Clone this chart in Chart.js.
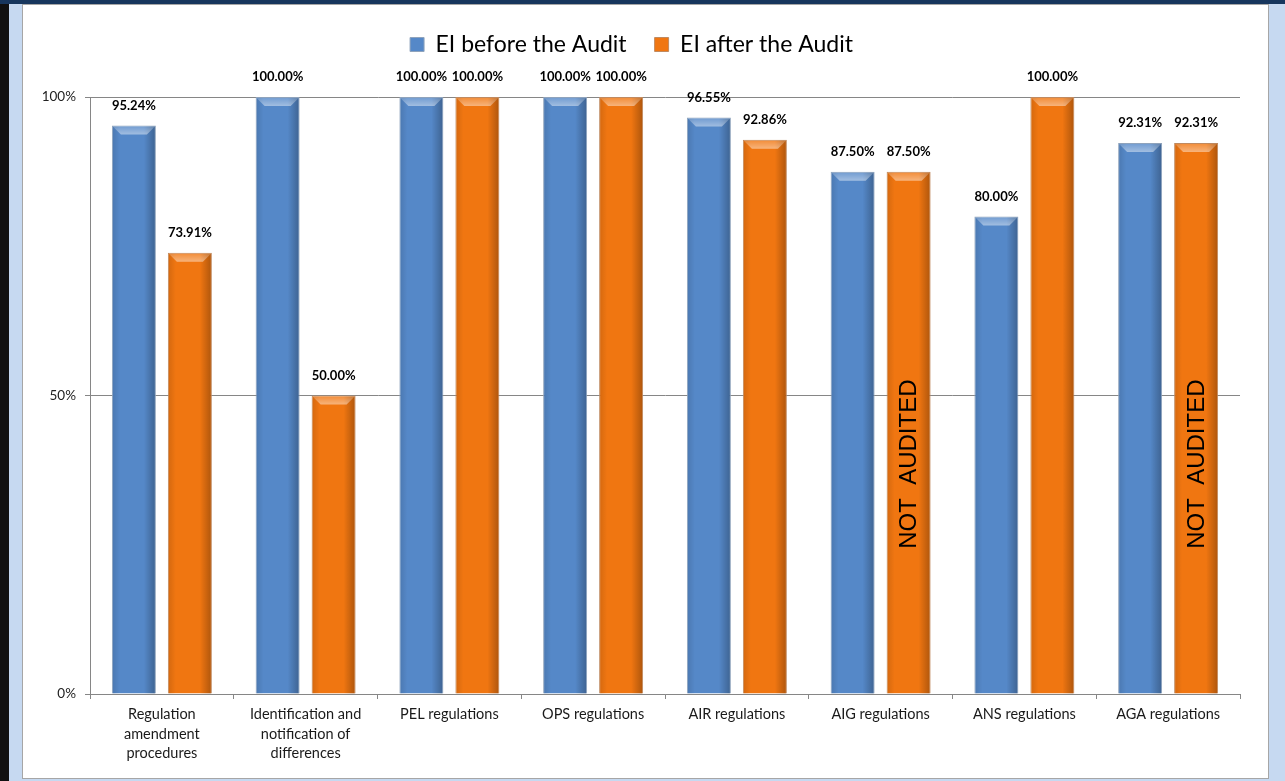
<!DOCTYPE html>
<html>
<head>
<meta charset="utf-8">
<script src="https://cdn.jsdelivr.net/npm/chart.js@4/dist/chart.umd.min.js"></script>
<style>
  html, body { margin: 0; padding: 0; }
  body { width: 1285px; height: 781px; background: #C6D9F1; position: relative; overflow: hidden; }
  #leftbar { position: absolute; left: 0; top: 0; width: 9px; height: 781px; background: #111; }
  #topbar { position: absolute; left: 0; top: 0; width: 1285px; height: 4px; background: #17365D; }
  #panel { position: absolute; left: 22px; top: 4px; width: 1245px; height: 773px; background: #fff; border: 1px solid #A6A6A6; }
  #c { position: absolute; left: 0; top: 0; }
</style>
</head>
<body>
<div id="leftbar"></div>
<div id="topbar"></div>
<div id="panel"><canvas id="c" width="1245" height="773"></canvas></div>
<script>
const categories = [
  ["Regulation", "amendment", "procedures"],
  ["Identification and", "notification of", "differences"],
  "PEL regulations",
  "OPS regulations",
  "AIR regulations",
  "AIG regulations",
  "ANS regulations",
  "AGA regulations"
];
const seriesNames = ["EI before the Audit", "EI after the Audit"];
const eiBefore = [95.24, 100.00, 100.00, 100.00, 96.55, 87.50, 80.00, 92.31];
const eiAfter  = [73.91, 50.00, 100.00, 100.00, 92.86, 87.50, 100.00, 92.31];
const notAudited = [false, false, false, false, false, true, false, true];
const notAuditedText = "NOT  AUDITED";
const notAuditedAt = 38.5;
const yTicks = [0, 50, 100];

const BLUE = "#5588C8";
const ORANGE = "#F07611";

Chart.defaults.font.family = "Lato, 'Open Sans', sans-serif";
Chart.defaults.color = "#222";

const legendHeightFix = {
  id: "legendHeightFix",
  beforeLayout(chart) {
    const lg = chart.legend;
    if (lg && !lg._patched) {
      const orig = lg.fit;
      lg.fit = function () { orig.call(this); this.height += 31; };
      lg._patched = true;
    }
  }
};

const barDecor = {
  id: "barDecor",
  afterDatasetsDraw(chart) {
    const ctx = chart.ctx;
    ctx.save();
    chart.data.datasets.forEach((ds, di) => {
      const meta = chart.getDatasetMeta(di);
      meta.data.forEach((bar, i) => {
        const p = bar.getProps(["x", "y", "base", "width"], true);
        const l = p.x - p.width / 2, r = p.x + p.width / 2, t = p.y, b = p.base;
        const g = ctx.createLinearGradient(r - 12, 0, r, 0);
        g.addColorStop(0, "rgba(0,0,0,0)");
        g.addColorStop(1, "rgba(0,0,0,0.28)");
        ctx.fillStyle = g;
        ctx.fillRect(r - 12, t + 1, 11, b - t - 1);
        const g2 = ctx.createLinearGradient(l, 0, l + 8, 0);
        g2.addColorStop(0, "rgba(0,0,0,0.12)");
        g2.addColorStop(1, "rgba(0,0,0,0)");
        ctx.fillStyle = g2;
        ctx.fillRect(l + 1, t + 1, 7, b - t - 1);
        const bev = 9;
        const g3 = ctx.createLinearGradient(0, t, 0, t + bev);
        g3.addColorStop(0, "rgba(255,255,255,0.15)");
        g3.addColorStop(1, "rgba(255,255,255,0.45)");
        ctx.fillStyle = g3;
        ctx.beginPath();
        ctx.moveTo(l + 1, t + 1);
        ctx.lineTo(r - 1, t + 1);
        ctx.lineTo(r - bev, t + bev);
        ctx.lineTo(l + bev, t + bev);
        ctx.closePath();
        ctx.fill();
      });
    });
    ctx.restore();
  }
};

const valueLabels = {
  id: "valueLabels",
  afterDraw(chart) {
    const ctx = chart.ctx;
    ctx.save();
    ctx.font = "bold 13px Lato, sans-serif";
    ctx.fillStyle = "#000";
    ctx.textAlign = "center";
    ctx.textBaseline = "middle";
    chart.data.datasets.forEach((ds, di) => {
      const meta = chart.getDatasetMeta(di);
      meta.data.forEach((bar, i) => {
        const v = ds.data[i];
        ctx.fillText(v.toFixed(2) + "%", bar.x, bar.y - 20);
      });
    });
    const meta1 = chart.getDatasetMeta(1);
    const yScale = chart.scales.y;
    ctx.font = "24px 'Liberation Sans', Arial, sans-serif";
    ctx.fillStyle = "#000";
    notAudited.forEach((flag, i) => {
      if (!flag) return;
      const bar = meta1.data[i];
      ctx.save();
      ctx.translate(bar.x, yScale.getPixelForValue(notAuditedAt));
      ctx.rotate(-Math.PI / 2);
      ctx.fillText(notAuditedText, 0, 1);
      ctx.restore();
    });
    ctx.restore();
  }
};

new Chart(document.getElementById("c"), {
  type: "bar",
  data: {
    labels: categories,
    datasets: [
      { label: seriesNames[0], data: eiBefore, backgroundColor: BLUE, borderColor: "#8FA3BC", borderWidth: 1,
        barPercentage: 0.786, categoryPercentage: 0.779 },
      { label: seriesNames[1], data: eiAfter, backgroundColor: ORANGE, borderColor: "#C08A60", borderWidth: 1,
        barPercentage: 0.786, categoryPercentage: 0.779 }
    ]
  },
  options: {
    responsive: false,
    animation: false,
    layout: { padding: { top: 0, right: 28, bottom: 0, left: 0 } },
    plugins: {
      legend: {
        position: "top",
        labels: {
          font: { size: 23, family: "Lato, sans-serif" },
          color: "#000",
          boxWidth: 14,
          boxHeight: 14,
          padding: 28
        }
      },
      tooltip: { enabled: false }
    },
    scales: {
      x: {
        offset: true,
        grid: { offset: true, drawOnChartArea: false, drawTicks: true, tickLength: 5, color: "#868686" },
        border: { color: "#868686" },
        ticks: { font: { size: 14.5, lineHeight: 1.33 }, color: "#1a1a1a", padding: 6, maxRotation: 0, autoSkip: false },
        afterFit(scale) { scale.height = 84; }
      },
      y: {
        min: 0,
        max: 100,
        afterBuildTicks(scale) { scale.ticks = yTicks.map(v => ({ value: v })); },
        grid: { color: "#868686", tickLength: 5 },
        border: { color: "#868686" },
        ticks: { font: { size: 13.5 }, color: "#222", padding: 9, callback: v => v + "%" },
        afterFit(scale) { scale.width = 67; }
      }
    }
  },
  plugins: [legendHeightFix, barDecor, valueLabels]
});
</script>
</body>
</html>
